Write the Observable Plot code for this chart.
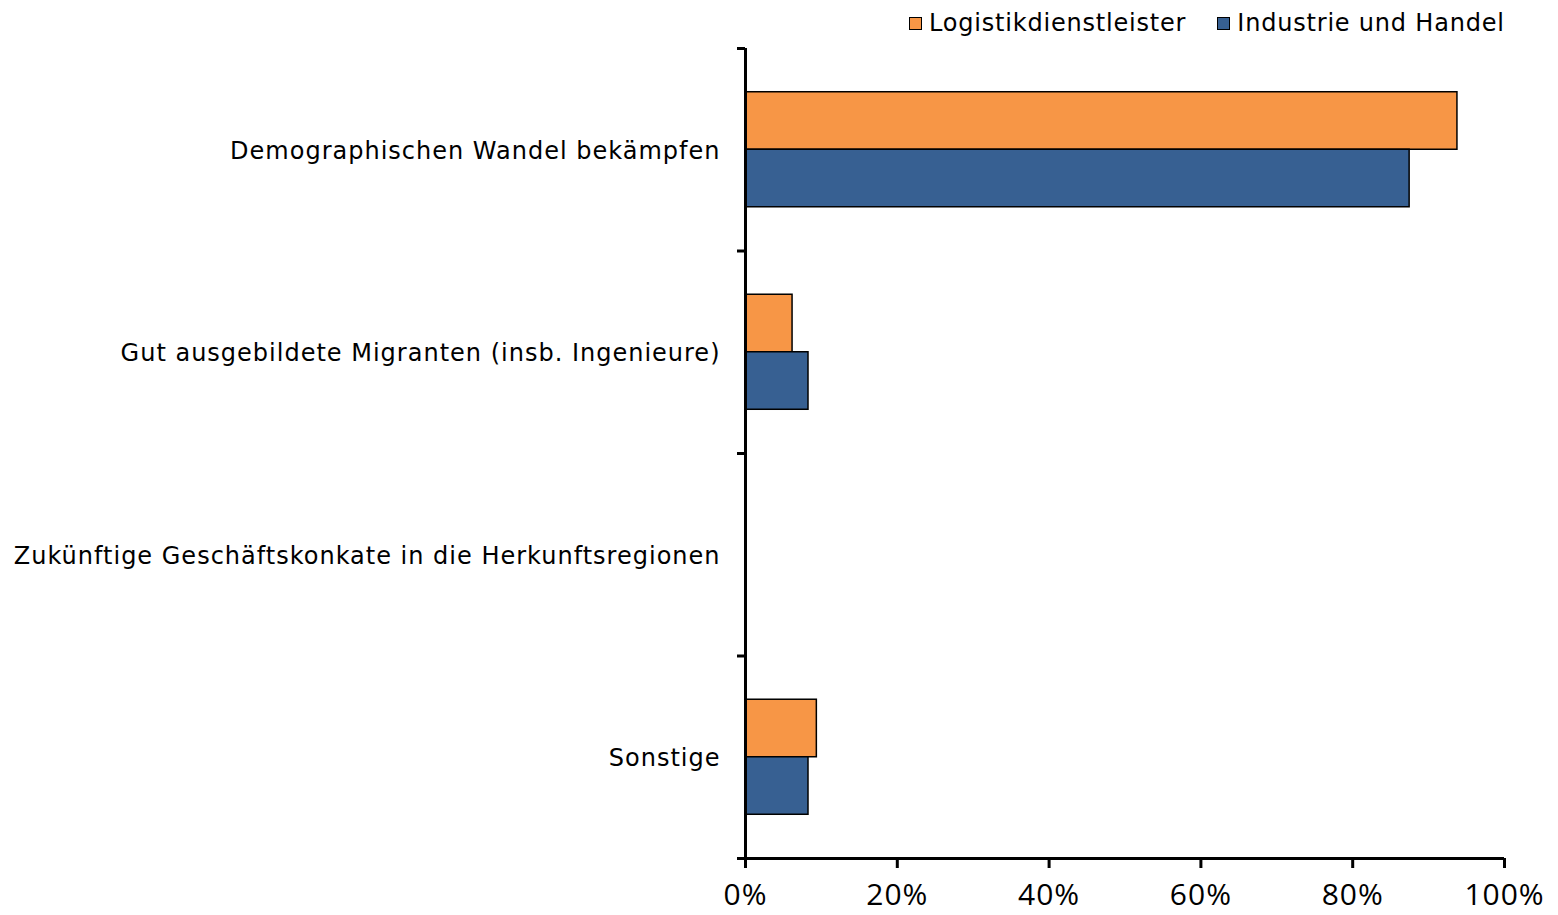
<!DOCTYPE html>
<html>
<head>
<meta charset="utf-8">
<script src="https://cdn.jsdelivr.net/npm/d3@7"></script>
<script src="https://cdn.jsdelivr.net/npm/@observablehq/plot@0.6"></script>
<style>
  html, body { margin: 0; padding: 0; background: #fff; }
  #wrap { position: relative; width: 1558px; height: 915px; }
  #legend { position: absolute; top: 9px; left: 909px; display: flex; align-items: center;
    font-family: "DejaVu Sans", Verdana, sans-serif; font-size: 24px; letter-spacing: 0.8px; color: #000; }
  .item { display: flex; align-items: center; margin-right: 31px; }
  .sw { width: 11px; height: 11px; border: 1.5px solid #000; margin-right: 7px; }
  #chart svg g[aria-label="y-axis tick label"] text { letter-spacing: 1px; }
  #chart svg g[aria-label="x-axis tick label"] text { letter-spacing: 1px; }
</style>
</head>
<body>
<div id="wrap">
  <div id="legend"></div>
  <div id="chart"></div>
</div>
<script>
const categories = [
  "Demographischen Wandel bekämpfen",
  "Gut ausgebildete Migranten (insb. Ingenieure)",
  "Zukünftige Geschäftskonkate in die Herkunftsregionen",
  "Sonstige"
];
const series = ["Logistikdienstleister", "Industrie und Handel"];
const logistik = [93.8, 6.2, 0, 9.4];
const industrie = [87.5, 8.3, 0, 8.3];
const xTicks = [0, 20, 40, 60, 80, 100];
const colors = ["#F79646", "#376092"];

const barH = 0.284;
const rows = [];
categories.forEach((c, i) => {
  [logistik, industrie].forEach((vals, s) => {
    rows.push({cat: c, i, series: series[s], value: vals[i],
      y1: s === 0 ? i - barH : i, y2: s === 0 ? i : i + barH});
  });
});

const chart = Plot.plot({
  width: 1558,
  height: 915,
  marginLeft: 745,
  marginRight: 54,
  marginTop: 48,
  marginBottom: 57,
  style: {color: "#000", background: "#fff"},
  x: {domain: [0, 100], label: null},
  y: {domain: [-0.5, 3.5], reverse: true, label: null},
  color: {domain: series, range: colors},
  marks: [
    Plot.rectX(rows.filter(d => d.value > 0), {
      x1: 0, x2: "value", y1: "y1", y2: "y2", fill: "series",
      stroke: "#000", strokeWidth: 1.5
    }),
    Plot.axisY({ticks: d3.range(categories.length), tickFormat: i => categories[i],
      tickSize: 0, tickPadding: 25, dy: 1.5, fontSize: 24, fontFamily: "DejaVu Sans, Verdana, sans-serif", label: null}),
    Plot.axisY({ticks: d3.range(-0.5, categories.length, 1), tickFormat: () => "",
      tickSize: 8, strokeWidth: 3, label: null}),
    Plot.axisX({ticks: xTicks, tickFormat: d => d + "%", tickSize: 10, strokeWidth: 3,
      tickPadding: 15, fontSize: 30, fontFamily: "Open Sans, sans-serif", label: null}),
    Plot.ruleX([0], {strokeWidth: 3}),
    Plot.ruleY([3.5], {strokeWidth: 3})
  ]
});
document.getElementById("chart").appendChild(chart);

const legend = document.getElementById("legend");
series.forEach((s, k) => {
  const it = document.createElement("div");
  it.className = "item";
  const sw = document.createElement("div");
  sw.className = "sw";
  sw.style.background = colors[k];
  const t = document.createElement("span");
  t.textContent = s;
  it.appendChild(sw); it.appendChild(t);
  legend.appendChild(it);
});
</script>
</body>
</html>
